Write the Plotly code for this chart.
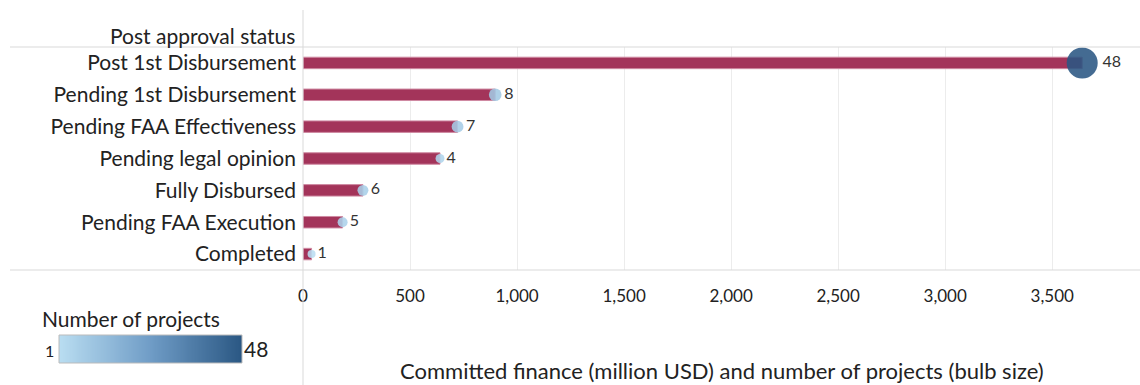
import plotly.graph_objects as go

categories = ["Post 1st Disbursement", "Pending 1st Disbursement", "Pending FAA Effectiveness",
              "Pending legal opinion", "Fully Disbursed", "Pending FAA Execution", "Completed"]
finance = [3640, 898, 722, 640, 280, 185, 40]
projects = [48, 8, 7, 4, 6, 5, 1]
tick_vals = [0, 500, 1000, 1500, 2000, 2500, 3000, 3500]
legend_min, legend_max = 1, 48

FONT = "Lato, 'Open Sans', sans-serif"
W, H = 1140, 385
COLORSCALE = [[0, "#b9ddf1"], [0.5, "#6f9cc6"], [1, "#2a5783"]]
TXT = "#222222"

def px_x(p):
    return p / W

def px_y(p):
    return (H - p) / H

fig = go.Figure()
fig.add_trace(go.Bar(
    x=finance, y=categories, orientation="h", width=0.36,
    marker=dict(color="#a3345a", line=dict(color="#cf8aa2", width=1)),
    hoverinfo="x+y", showlegend=False,
))
fig.add_trace(go.Scatter(
    x=finance, y=categories, mode="markers+text",
    text=[str(p) for p in projects], textposition="middle right",
    textfont=dict(family=FONT, size=16, color="#333333"),
    marker=dict(
        size=projects, sizemode="area", sizeref=2 * 48 / 31 ** 2, sizemin=4,
        color=projects, cmin=legend_min, cmax=legend_max, opacity=0.88,
        colorscale=COLORSCALE, line=dict(width=0), showscale=False,
    ),
    showlegend=False,
))
# colour legend gradient
legend_vals = list(range(legend_min, legend_max + 1))
fig.add_trace(go.Heatmap(
    x=legend_vals, y=[0], z=[legend_vals], zmin=legend_min, zmax=legend_max,
    colorscale=COLORSCALE, zsmooth="best", showscale=False, hoverinfo="skip",
    xaxis="x2", yaxis="y2",
))

fig.update_layout(
    width=W, height=H,
    margin=dict(l=0, r=0, t=0, b=0, autoexpand=False),
    paper_bgcolor="white", plot_bgcolor="white",
    font=dict(family=FONT, size=21, color=TXT),
    xaxis=dict(
        domain=[px_x(303), 1],
        range=[0, 3910], tickvals=tick_vals, tickformat=",",
        showgrid=True, gridcolor="#ececec", gridwidth=1,
        zeroline=False, showline=False, ticks="",
        tickfont=dict(size=17, color=TXT), ticklabelstandoff=14,
        automargin=False, fixedrange=True,
    ),
    yaxis=dict(
        domain=[px_y(270), px_y(47)],
        categoryorder="array", categoryarray=categories,
        range=[len(categories) - 0.5, -0.5],
        showgrid=False, zeroline=False, showline=False, ticks="",
        ticklabelstandoff=6, tickfont=dict(size=21, color=TXT),
        automargin=False, fixedrange=True,
    ),
    xaxis2=dict(domain=[px_x(59), px_x(242)], range=[legend_min, legend_max], anchor="y2",
                visible=False, fixedrange=True),
    yaxis2=dict(domain=[px_y(363), px_y(335)], range=[-0.5, 0.5], anchor="x2",
                visible=False, fixedrange=True),
    shapes=[
        dict(type="line", xref="paper", yref="paper", x0=px_x(10), x1=1, y0=px_y(47), y1=px_y(47),
             line=dict(color="#d9d9d9", width=1)),
        dict(type="line", xref="paper", yref="paper", x0=px_x(10), x1=1, y0=px_y(270), y1=px_y(270),
             line=dict(color="#d9d9d9", width=1)),
        dict(type="line", xref="paper", yref="paper", x0=px_x(303), x1=px_x(303), y0=0, y1=px_y(10),
             line=dict(color="#d9d9d9", width=1)),
        dict(type="rect", xref="paper", yref="paper", x0=px_x(59), x1=px_x(242),
             y0=px_y(363), y1=px_y(335), line=dict(color="#bbbbbb", width=1)),
    ],
    annotations=[
        dict(text="Post approval status", xref="paper", yref="paper",
             x=px_x(297), y=px_y(35), xanchor="right", yanchor="middle",
             showarrow=False, font=dict(size=21, color=TXT)),
        dict(text="Committed finance (million USD) and number of projects (bulb size)",
             xref="paper", yref="paper", x=px_x(722), y=px_y(370),
             xanchor="center", yanchor="middle", showarrow=False, font=dict(size=22, color=TXT)),
        dict(text="Number of projects", xref="paper", yref="paper",
             x=px_x(40), y=px_y(318), xanchor="left", yanchor="middle",
             showarrow=False, font=dict(size=21, color=TXT)),
        dict(text=str(legend_min), xref="paper", yref="paper",
             x=px_x(56), y=px_y(350), xanchor="right", yanchor="middle",
             showarrow=False, font=dict(size=16, color=TXT)),
        dict(text=str(legend_max), xref="paper", yref="paper",
             x=px_x(242), y=px_y(348), xanchor="left", yanchor="middle",
             showarrow=False, font=dict(size=21, color=TXT)),
    ],
)

fig.write_html("out.html")
